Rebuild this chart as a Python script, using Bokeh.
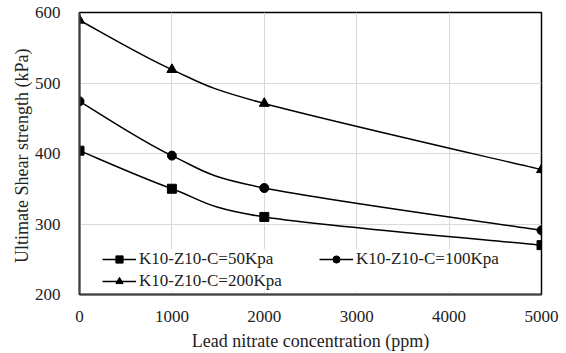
from bokeh.plotting import figure
from bokeh.models import Legend, LegendItem, ColumnDataSource, FixedTicker, Range1d
from bokeh.embed import file_html
from bokeh.resources import INLINE

conc = [0, 1000, 2000, 5000]
s50 = [404, 350, 310, 270]
s100 = [474, 397, 351, 291]
s200 = [589, 519, 471, 377]
labels = ["K10-Z10-C=50Kpa", "K10-Z10-C=100Kpa", "K10-Z10-C=200Kpa"]
markers = ["square", "circle", "triangle"]
FONT = "Liberation Serif"

p = figure(width=560, height=353, output_backend="svg", toolbar_location=None,
           x_range=Range1d(0, 5000), y_range=Range1d(200, 600),
           min_border_left=79, min_border_right=19, min_border_top=12, min_border_bottom=59)
p.outline_line_color = "black"
p.outline_line_width = 1.5
p.background_fill_color = "white"
p.border_fill_color = "white"

for ax in (p.xaxis[0], p.yaxis[0]):
    ax.axis_line_color = "#404040"
    ax.axis_line_width = 2
    ax.major_tick_line_color = None
    ax.minor_tick_line_color = None
    ax.major_label_text_font = FONT
    ax.major_label_text_font_size = "17px"
    ax.major_label_text_color = "#222222"
    ax.axis_label_text_font = FONT
    ax.axis_label_text_font_size = "18px"
    ax.axis_label_text_font_style = "normal"
    ax.axis_label_text_color = "#222222"

p.xaxis.ticker = FixedTicker(ticks=[0, 1000, 2000, 3000, 4000, 5000])
p.yaxis.ticker = FixedTicker(ticks=[200, 300, 400, 500, 600])
p.xaxis.axis_label = "Lead nitrate concentration (ppm)"
p.yaxis.axis_label = "Ultimate  Shear strength (kPa)"
p.xaxis.major_label_standoff = 10
p.xaxis.axis_label_standoff = 6
p.yaxis.major_label_standoff = 13
p.yaxis.axis_label_standoff = 0
p.xgrid.grid_line_color = "#d9d9d9"
p.ygrid.grid_line_color = "#d9d9d9"


def bezier_source(xs, ys):
    n = len(xs)
    x0, y0, x1, y1, cx0, cy0, cx1, cy1 = [], [], [], [], [], [], [], []
    for i in range(n - 1):
        pxm = xs[i - 1] if i > 0 else xs[i]
        pym = ys[i - 1] if i > 0 else ys[i]
        pxp = xs[i + 2] if i + 2 < n else xs[i + 1]
        pyp = ys[i + 2] if i + 2 < n else ys[i + 1]
        x0.append(xs[i]); y0.append(ys[i])
        x1.append(xs[i + 1]); y1.append(ys[i + 1])
        cx0.append(xs[i] + (xs[i + 1] - pxm) / 6.0)
        cy0.append(ys[i] + (ys[i + 1] - pym) / 6.0)
        cx1.append(xs[i + 1] - (pxp - xs[i]) / 6.0)
        cy1.append(ys[i + 1] - (pyp - ys[i]) / 6.0)
    return ColumnDataSource(dict(x0=x0, y0=y0, x1=x1, y1=y1, cx0=cx0, cy0=cy0, cx1=cx1, cy1=cy1))


items = {}
for ys, lab, mk in zip([s50, s100, s200], labels, markers):
    src = bezier_source(conc, ys)
    p.bezier(x0="x0", y0="y0", x1="x1", y1="y1", cx0="cx0", cy0="cy0", cx1="cx1", cy1="cy1",
             source=src, line_color="black", line_width=1.5)
    sz = 10 if mk == "triangle" else 9
    sc = p.scatter(conc, ys, marker=mk, size=sz, fill_color="black", line_color="black")
    leg_line = p.line(conc[:1], ys[:1], line_color="black", line_width=1.5)
    items[lab] = LegendItem(label=lab, renderers=[leg_line, sc])

legend = Legend(items=[items[labels[0]], items[labels[2]], items[labels[1]]],
                ncols=2, location=(23, 3), orientation="vertical")
legend.label_text_font = FONT
legend.label_text_font_size = "17px"
legend.label_text_color = "#222222"
legend.border_line_color = None
legend.background_fill_color = "white"
legend.background_fill_alpha = 1.0
legend.glyph_width = 34
legend.glyph_height = 18
legend.label_standoff = 3
legend.label_width = 178
legend.label_height = 20
legend.spacing = 2
legend.padding = 4
legend.margin = 0
p.add_layout(legend, "center")

open("out.html", "w").write(file_html(p, INLINE))
